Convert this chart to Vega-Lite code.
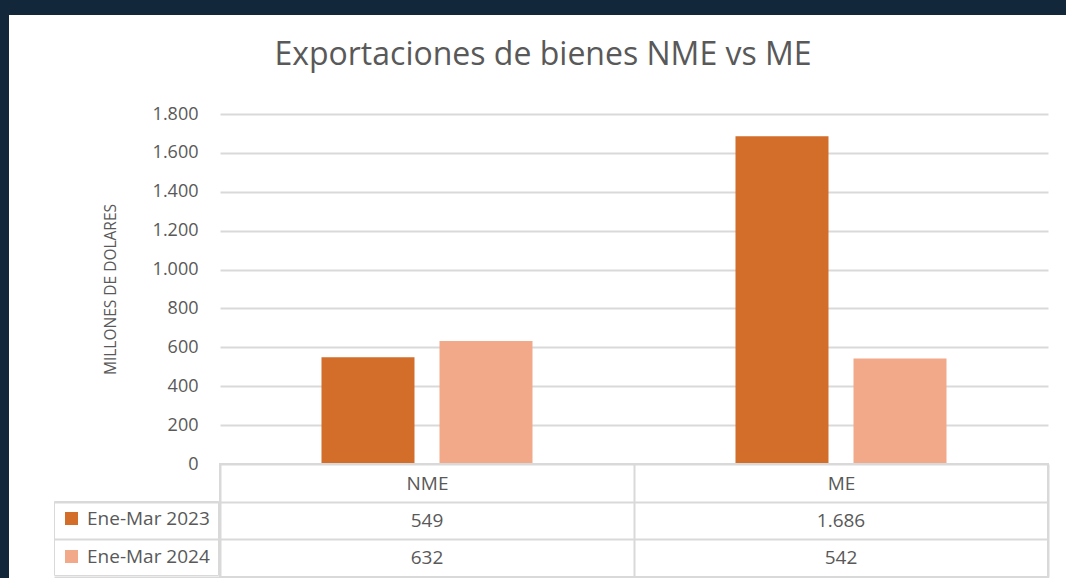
{
  "$schema": "https://vega.github.io/schema/vega-lite/v6.json",
  "background": "white",
  "padding": 0,
  "datasets": {
    "exp": [
      {"cat": "NME", "period": "Ene-Mar 2023", "value": 549},
      {"cat": "NME", "period": "Ene-Mar 2024", "value": 632},
      {"cat": "ME", "period": "Ene-Mar 2023", "value": 1686},
      {"cat": "ME", "period": "Ene-Mar 2024", "value": 542}
    ]
  },
  "config": {
    "font": "Open Sans",
    "view": {"stroke": null},
    "locale": {"number": {"decimal": ",", "thousands": ".", "grouping": [3], "currency": ["$", ""]}},
    "legend": {
      "orient": "none",
      "legendX": 54,
      "legendY": 501,
      "direction": "vertical",
      "symbolType": "square",
      "symbolSize": 169,
      "symbolStrokeWidth": 0,
      "symbolOpacity": 1,
      "labelFont": "Open Sans",
      "labelFontSize": 19,
      "labelColor": "#595959",
      "labelOffset": 6,
      "rowPadding": 18,
      "padding": 8,
      "strokeColor": "#d9d9d9"
    }
  },
  "spacing": 0,
  "vconcat": [
    {
      "width": 1066,
      "height": 15,
      "data": {"values": []},
      "mark": "point",
      "view": {"fill": "#12283a", "stroke": null}
    },
    {
      "spacing": 43,
      "hconcat": [
        {
          "width": 9,
          "height": 563,
          "data": {"values": []},
          "mark": "point",
          "view": {"fill": "#12283a", "stroke": null}
        },
        {
          "spacing": 0,
          "bounds": "flush",
          "vconcat": [
            {
              "width": 828,
              "height": 99,
              "data": {"values": []},
              "mark": "point"
            },
            {
              "width": 828,
              "height": 350,
              "data": {"name": "exp"},
              "title": {
                "text": "Exportaciones de bienes NME vs ME",
                "fontSize": 32,
                "fontWeight": "normal",
                "color": "#595959",
                "anchor": "middle",
                "frame": "group",
                "dx": -91,
                "baseline": "alphabetic",
                "offset": 8
              },
              "mark": {"type": "bar"},
              "encoding": {
                "x": {
                  "field": "cat",
                  "type": "nominal",
                  "scale": {"domain": ["NME", "ME"], "paddingInner": 0, "paddingOuter": 0},
                  "axis": null
                },
                "xOffset": {
                  "field": "period",
                  "type": "nominal",
                  "scale": {"domain": ["Ene-Mar 2023", "Ene-Mar 2024"], "paddingInner": 0.212, "paddingOuter": 0.86}
                },
                "y": {
                  "field": "value",
                  "type": "quantitative",
                  "scale": {"domain": [0, 1800], "nice": false},
                  "axis": {
                    "values": [0, 200, 400, 600, 800, 1000, 1200, 1400, 1600, 1800],
                    "format": ",.0f",
                    "domain": false,
                    "ticks": false,
                    "grid": true,
                    "gridColor": "#d9d9d9",
                    "gridWidth": 2,
                    "labelFontSize": 18,
                    "labelColor": "#595959",
                    "labelPadding": 22,
                    "title": "MILLONES DE DOLARES",
                    "titleFontSize": 15.5,
                    "titleFontWeight": "normal",
                    "titleColor": "#595959",
                    "titlePadding": 34
                  }
                },
                "color": {
                  "field": "period",
                  "type": "nominal",
                  "scale": {"domain": ["Ene-Mar 2023", "Ene-Mar 2024"], "range": ["#d26d2a", "#f1a98a"]},
                  "legend": {"title": null}
                }
              }
            },
            {
              "width": 828,
              "height": 113,
              "data": {"name": "exp"},
              "view": {"stroke": "#d9d9d9", "strokeWidth": 2},
              "mark": {"type": "text", "fontSize": 19, "color": "#595959"},
              "encoding": {
                "x": {
                  "field": "cat",
                  "type": "nominal",
                  "scale": {"type": "band", "domain": ["NME", "ME"], "paddingInner": 0, "paddingOuter": 0},
                  "axis": {
                    "orient": "top",
                    "title": null,
                    "labelAngle": 0,
                    "labelPadding": -19,
                    "labelBaseline": "middle",
                    "labelFontSize": 19,
                    "labelColor": "#595959",
                    "ticks": false,
                    "domain": false,
                    "grid": true,
                    "tickBand": "extent",
                    "gridColor": "#d9d9d9",
                    "gridWidth": 2
                  }
                },
                "y": {
                  "field": "period",
                  "type": "nominal",
                  "scale": {"type": "band", "domain": ["hdr", "Ene-Mar 2023", "Ene-Mar 2024"], "paddingInner": 0, "paddingOuter": 0},
                  "axis": {
                    "values": ["Ene-Mar 2023", "Ene-Mar 2024"],
                    "title": null,
                    "labels": false,
                    "domain": false,
                    "ticks": true,
                    "tickBand": "extent",
                    "tickSize": 166,
                    "tickColor": "#d9d9d9",
                    "tickWidth": 2,
                    "grid": true,
                    "gridColor": "#d9d9d9",
                    "gridWidth": 2
                  }
                },
                "text": {"field": "value", "type": "quantitative", "format": ",.0f"}
              }
            }
          ]
        }
      ]
    }
  ]
}
